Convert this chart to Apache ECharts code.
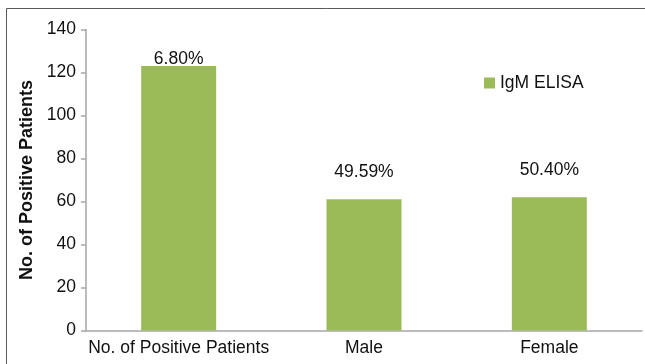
<!DOCTYPE html>
<html>
<head>
<meta charset="utf-8">
<style>
  html, body { margin: 0; padding: 0; background: #fff; }
  #chart { width: 645px; height: 364px; }
</style>
<script src="https://cdn.jsdelivr.net/npm/echarts@6/dist/echarts.min.js"></script>
</head>
<body>
<div id="chart"></div>
<script>
// Positive IgM ELISA results: total and by sex
const categories = ['No. of Positive Patients', 'Male', 'Female'];
const positiveCounts = [123, 61, 62];
const percentLabels = ['6.80%', '49.59%', '50.40%'];
const seriesName = 'IgM ELISA';
const yTicks = { min: 0, max: 140, interval: 20 };

const FONT = 'Liberation Sans, Arial, sans-serif';
const TEXT = '#111';
const AXIS = '#a6a6a6';
const GREEN = '#9bbb59';
// gap between each bar top and its percentage label
const labelGaps = [-2, 18, 18];

const chart = echarts.init(document.getElementById('chart'), null, { renderer: 'canvas' });

chart.setOption({
  animation: false,
  backgroundColor: '#fff',
  textStyle: { fontFamily: FONT, color: TEXT },
  graphic: [{
    type: 'rect',
    shape: { x: 6.5, y: 8.5, width: 700, height: 400 },
    style: { fill: 'none', stroke: '#5a5a5a', lineWidth: 1 },
    silent: true
  }],
  grid: { left: 86, right: 3, top: 29.5, bottom: 33.5, containLabel: false },
  legend: {
    data: [seriesName],
    left: 479,
    top: 69,
    itemWidth: 11,
    itemHeight: 11,
    icon: 'rect',
    textStyle: { fontFamily: FONT, fontSize: 17.5, color: TEXT }
  },
  xAxis: {
    type: 'category',
    data: categories,
    axisLine: { lineStyle: { color: AXIS, width: 1.5 } },
    axisTick: { show: false },
    axisLabel: { fontFamily: FONT, fontSize: 17.5, color: TEXT, margin: 9, interval: 0 }
  },
  yAxis: {
    type: 'value',
    min: yTicks.min,
    max: yTicks.max,
    interval: yTicks.interval,
    name: 'No. of Positive Patients',
    nameLocation: 'middle',
    nameRotate: 90,
    nameGap: 50,
    nameTextStyle: { fontFamily: FONT, fontSize: 18, fontWeight: 'bold', color: TEXT },
    axisLine: { show: true, lineStyle: { color: AXIS, width: 1.5 } },
    axisTick: { show: true, length: 5, lineStyle: { color: AXIS, width: 1.5 } },
    splitLine: { show: false },
    axisLabel: { fontFamily: FONT, fontSize: 17.5, color: TEXT, margin: 10 }
  },
  series: [{
    name: seriesName,
    type: 'bar',
    barWidth: 75,
    itemStyle: { color: GREEN },
    data: positiveCounts.map((v, i) => ({
      value: v,
      label: {
        show: true,
        position: 'top',
        distance: labelGaps[i],
        formatter: percentLabels[i],
        fontFamily: FONT,
        fontSize: 17.5,
        color: TEXT
      }
    }))
  }]
});
</script>
</body>
</html>
